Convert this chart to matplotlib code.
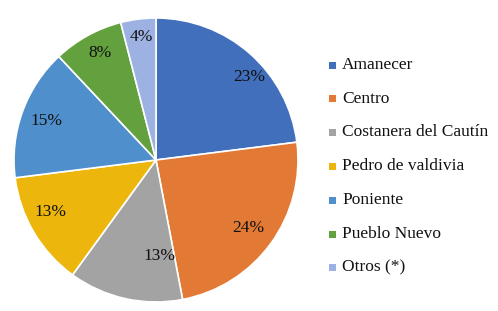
import matplotlib
matplotlib.use("Agg")
import matplotlib.pyplot as plt
from matplotlib.patches import Rectangle

categories = ["Amanecer", "Centro", "Costanera del Cautín", "Pedro de valdivia",
              "Poniente", "Pueblo Nuevo", "Otros (*)"]
values = [23, 24, 13, 13, 15, 8, 4]
labels = ["23%", "24%", "13%", "13%", "15%", "8%", "4%"]
colors = ["#416FBC", "#E27A35", "#A3A3A3", "#EDB60C", "#4F8FCB", "#63A13F", "#9DB2E2"]

plt.rcParams['font.family'] = ['Liberation Serif', 'DejaVu Serif']

fig = plt.figure(figsize=(4.98, 3.11), dpi=100)
W, H = 498, 311
cx, cy, r = 156, 160, 142
ax = fig.add_axes([(cx - r) / W, 1 - (cy + r) / H, 2 * r / W, 2 * r / H])
wedges, texts = ax.pie(values, colors=colors, startangle=90, counterclock=False,
                       labels=labels, labeldistance=0.78,
                       wedgeprops=dict(edgecolor="white", linewidth=1.2),
                       textprops=dict(fontsize=12.5, color="#111111"))
# label placement as in the source (pixel positions of label centres)
label_px = [(249, 77), (248, 228), (159, 256), (50, 212), (46, 121), (100, 53), (141, 37)]
for t, (px, py) in zip(texts, label_px):
    t.set_position(((px - cx) / r, (cy - py) / r))
    t.set_horizontalalignment("center")
    t.set_verticalalignment("center")
ax.set_xlim(-1, 1)
ax.set_ylim(-1, 1)
ax.set_aspect("equal")

ys = [65, 99, 132, 166, 200, 234, 267]
for name, c, y in zip(categories, colors, ys):
    fig.patches.append(Rectangle((329 / W, 1 - (y + 3.5) / H), 7 / W, 7 / H,
                                 transform=fig.transFigure, facecolor=c, edgecolor="none"))
    fig.text(342 / W, 1 - y / H, name, fontsize=12.5, va="center", ha="left", color="#111111")

fig.savefig("out.png", dpi=100)
